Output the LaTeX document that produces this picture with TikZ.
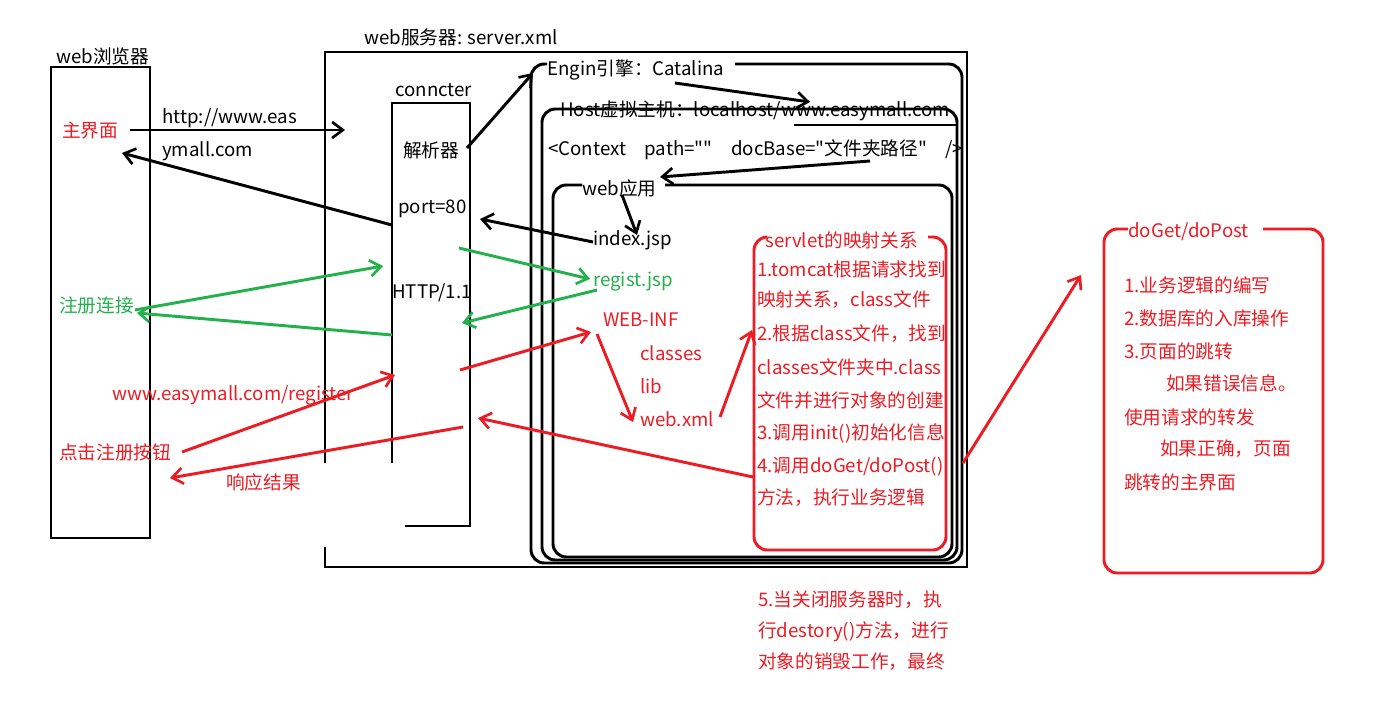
\documentclass[tikz,border=0pt]{standalone}
\usepackage{fontspec}
\newfontfamily\cjk{Noto Sans CJK SC}
\usetikzlibrary{arrows.meta}
\definecolor{pred}{RGB}{237,28,36}
\definecolor{pgreen}{RGB}{34,177,76}
\begin{document}
\begin{tikzpicture}[x=0.75pt,y=-0.75pt,
  txt/.style={anchor=west,inner sep=0pt,font=\cjk\fontsize{14}{16}\selectfont},
  box/.style={line width=2.2pt},
  arr/.style={line width=2.2pt,-{Straight Barb[length=8pt,width=12pt,line width=2pt]}},
 ]
\useasboundingbox (0,0) rectangle (1392,721);
\fill[white] (0,0) rectangle (1392,721);
% boxes
\draw[box] (51,67) rectangle (150,538);
\draw[box] (325,463) -- (325,52) -- (967,52) -- (967,567) -- (325,567) -- (325,547);
\draw[box] (392,463) -- (392,103) -- (470,103) -- (470,526) -- (405,526);
\draw[box,rounded corners=10pt] (547,64) -| (531,563) -| (962,64) -- (735,64);
\draw[box,rounded corners=10pt] (542,109) rectangle (957,560);
\draw[box] (794,125) -- (957,125);
\draw[box,rounded corners=10pt] (582,185) -| (553,557) -| (952,185) -- (665,185);
\draw[box,pred,rounded corners=10pt] (765,237) -| (754,550) -| (946,237) -- (928,237);
\draw[box,pred,rounded corners=10pt] (1128,229) -| (1104,573) -| (1323,229) -- (1263,229);
% texts
\node[txt] (tb) at (56,56) {web浏览器};
\node[txt] (ts) at (364,37) {web服务器: server.xml};
\node[txt] (tc) at (395,90) {conncter};
\node[txt] (tj) at (403,150) {解析器};
\node[txt] (tp) at (398,209) {port=80};
\node[txt] (th) at (392,293) {HTTP/1.1};
\node[txt] (te) at (547,70) {Engin引擎：Catalina};
\node[txt] (thost) at (560,111) {Host虚拟主机：localhost/www.easymall.com};
\node[txt] (tctx) at (548,150) {<Context\quad path=""\quad docBase="文件夹路径"\quad />};
\node[txt] (twa) at (582,188) {web应用};
\node[txt] (tidx) at (593,240) {index.jsp};
\node[txt,pgreen] (treg) at (593,282) {regist.jsp};
\node[txt,pred] (twi) at (603,320) {WEB-INF};
\node[txt,pred] (tcl) at (640,353) {classes};
\node[txt,pred] (tlib) at (640,386) {lib};
\node[txt,pred] (twx) at (640,419) {web.xml};
\node[txt,pred] (tsv) at (765,240) {servlet的映射关系};
\begin{scope}
\clip (750,250) rectangle (951,545);
\node[txt,pred] (s1) at (757,269) {1.tomcat根据请求找到};
\node[txt,pred] (s2) at (757,300) {映射关系，class文件};
\node[txt,pred] (s3) at (757,334) {2.根据class文件，找到};
\node[txt,pred] (s4) at (757,367) {classes文件夹中.class};
\node[txt,pred] (s5) at (757,400) {文件并进行对象的创建};
\node[txt,pred] (s6) at (757,433) {3.调用init()初始化信息};
\node[txt,pred] (s7) at (757,467) {4.调用doGet/doPost()};
\node[txt,pred] (s8) at (757,498) {方法，执行业务逻辑};
\end{scope}
\node[txt,pred] (b1) at (758,600) {5.当关闭服务器时，执};
\node[txt,pred] (b2) at (758,632) {行destory()方法，进行};
\node[txt,pred] (b3) at (758,662) {对象的销毁工作，最终};
\node[txt,pred] (dg) at (1128,232) {doGet/doPost};
\node[txt,pred] (d1) at (1124,285) {1.业务逻辑的编写};
\node[txt,pred] (d2) at (1124,318) {2.数据库的入库操作};
\node[txt,pred] (d3) at (1124,351) {3.页面的跳转};
\node[txt,pred] (d4) at (1166,383) {如果错误信息。};
\node[txt,pred] (d5) at (1124,417) {使用请求的转发};
\node[txt,pred] (d6) at (1160,449) {如果正确，页面};
\node[txt,pred] (d7) at (1124,482) {跳转的主界面};
\node[txt,pred] (lm) at (62,130) {主界面};
\node[txt] (u1) at (162,118) {http://www.eas};
\node[txt] (u2) at (162,151) {ymall.com};
\node[txt,pgreen] (lz) at (59,305) {注册连接};
\node[txt,pred] (lr) at (112,395) {www.easymall.com/register};
\node[txt,pred] (lk) at (59,452) {点击注册按钮};
\node[txt,pred] (lx) at (226,482) {响应结果};
% connector end points
\coordinate (a1s) at (130,130); \coordinate (a1e) at (345,130);
\coordinate (a2s) at (392,225); \coordinate (a2e) at (122,153);
\coordinate (a3s) at (467,148); \coordinate (a3e) at (533,73);
\coordinate (a4s) at (675,83);  \coordinate (a4e) at (810,102);
\coordinate (a5s) at (870,161); \coordinate (a5e) at (660,177);
\coordinate (a6s) at (622,195); \coordinate (a6e) at (637,235);
\coordinate (a7s) at (593,242); \coordinate (a7e) at (480,219);
\coordinate (g1s) at (135,310); \coordinate (g1e) at (383,266);
\coordinate (g2s) at (392,335); \coordinate (g2e) at (137,313);
\coordinate (g3s) at (459,248); \coordinate (g3e) at (590,279);
\coordinate (g4s) at (597,290); \coordinate (g4e) at (462,323);
\coordinate (r1s) at (182,452); \coordinate (r1e) at (395,375);
\coordinate (r2s) at (463,427); \coordinate (r2e) at (170,478);
\coordinate (r3s) at (460,370); \coordinate (r3e) at (591,332);
\coordinate (r4s) at (597,334); \coordinate (r4e) at (633,422);
\coordinate (r5s) at (720,417); \coordinate (r5e) at (752,330);
\coordinate (r6s) at (753,477); \coordinate (r6e) at (478,418);
\coordinate (r7s) at (963,463); \coordinate (r7e) at (1081,275);
% connectors
\draw[arr] (a1s) -- (a1e);
\draw[arr] (a2s) -- (a2e);
\draw[arr] (a3s) -- (a3e);
\draw[arr] (a4s) -- (a4e);
\draw[arr] (a5s) -- (a5e);
\draw[arr] (a6s) -- (a6e);
\draw[arr] (a7s) -- (a7e);
\draw[arr,pgreen] (g1s) -- (g1e);
\draw[arr,pgreen] (g2s) -- (g2e);
\draw[arr,pgreen] (g3s) -- (g3e);
\draw[arr,pgreen] (g4s) -- (g4e);
\draw[arr,pred] (r1s) -- (r1e);
\draw[arr,pred] (r2s) -- (r2e);
\draw[arr,pred] (r3s) -- (r3e);
\draw[arr,pred] (r4s) -- (r4e);
\draw[arr,pred] (r5s) -- (r5e);
\draw[arr,pred] (r6s) -- (r6e);
\draw[arr,pred] (r7s) -- (r7e);
\end{tikzpicture}
\end{document}
